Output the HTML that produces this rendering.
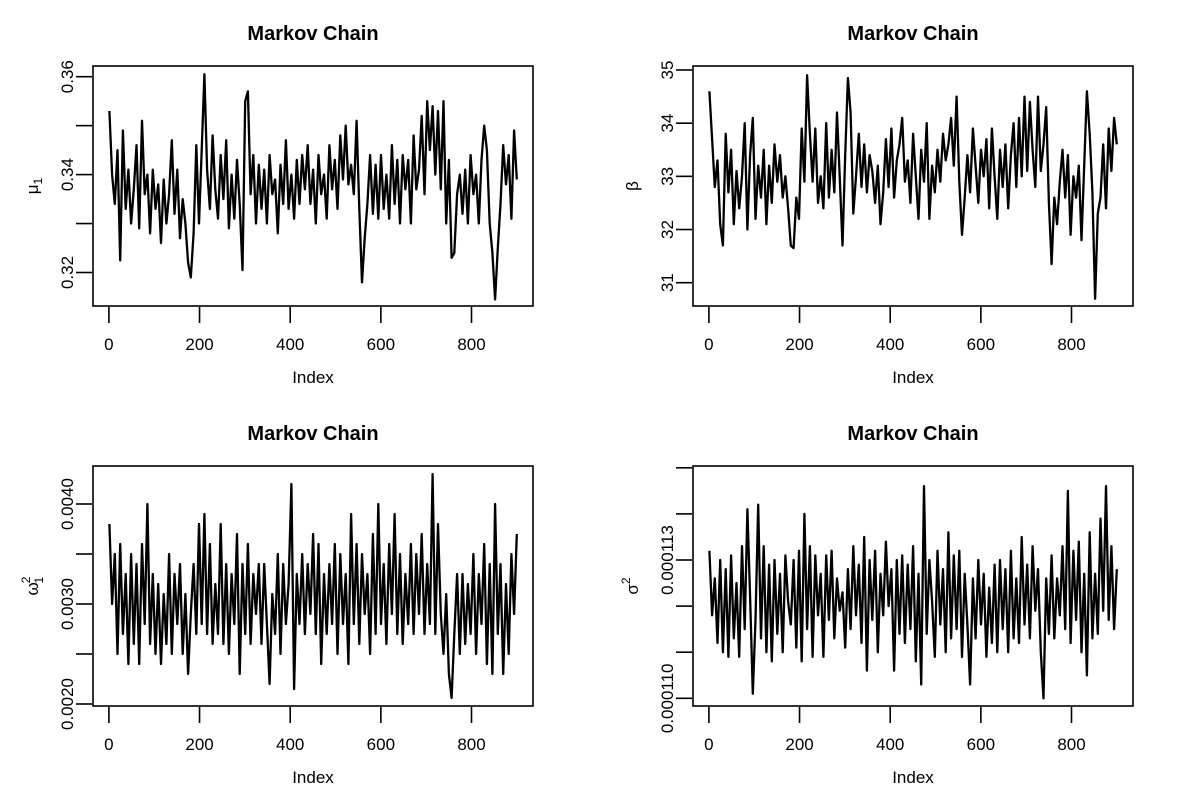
<!DOCTYPE html>
<html><head><meta charset="utf-8"><style>
body{margin:0;background:#fff;}
svg{display:block;font-family:"Liberation Sans",Arial,sans-serif;}
</style></head><body>
<svg id="chart" width="1200" height="800" viewBox="0 0 1200 800"></svg>
<script>
// x positions: chain index (1..900)
const xTicks = [0, 200, 400, 600, 800];
const mu1Vals = [0.353,0.340,0.334,0.345,0.3225,0.349,0.333,0.341,0.330,0.337,
0.346,0.329,0.351,0.336,0.340,0.328,0.341,0.333,0.338,0.326,
0.339,0.330,0.336,0.347,0.332,0.341,0.327,0.335,0.330,0.322,
0.319,0.328,0.346,0.330,0.345,0.3605,0.341,0.333,0.348,0.337,
0.331,0.344,0.335,0.347,0.329,0.340,0.331,0.343,0.334,0.3205,
0.355,0.357,0.336,0.344,0.330,0.342,0.333,0.341,0.330,0.344,
0.336,0.339,0.328,0.342,0.334,0.347,0.333,0.340,0.331,0.343,
0.334,0.344,0.337,0.346,0.334,0.341,0.330,0.344,0.336,0.340,
0.331,0.346,0.337,0.343,0.333,0.348,0.339,0.350,0.338,0.342,
0.336,0.351,0.333,0.318,0.327,0.334,0.344,0.332,0.342,0.331,
0.344,0.333,0.340,0.331,0.346,0.334,0.343,0.330,0.344,0.337,
0.343,0.330,0.348,0.337,0.341,0.352,0.336,0.355,0.345,0.354,
0.340,0.353,0.337,0.355,0.330,0.343,0.323,0.324,0.336,0.340,
0.332,0.341,0.330,0.344,0.336,0.340,0.330,0.343,0.350,0.345,
0.330,0.324,0.3145,0.325,0.334,0.346,0.338,0.344,0.331,0.349,0.339];
const mu1Ticks = [0.32, 0.33, 0.34, 0.35, 0.36];
const mu1Labels = ["0.32", "", "0.34", "", "0.36"];

const betaVals = [34.6,33.7,32.8,33.3,32.1,31.7,33.8,32.7,33.5,32.1,
33.1,32.4,33.0,34.0,32.0,33.4,34.1,32.2,33.2,32.6,
33.5,32.1,33.2,32.5,33.6,32.9,33.4,32.6,33.0,32.4,
31.7,31.65,32.6,32.2,33.9,32.9,34.9,33.8,32.9,33.9,
32.5,33.0,32.4,34.0,32.6,33.5,32.7,34.2,33.0,31.7,
33.4,34.85,34.2,32.3,33.0,33.8,32.8,33.6,32.7,33.4,
33.1,32.5,33.2,32.1,32.7,33.7,32.8,33.9,32.6,33.3,
33.6,34.1,32.9,33.3,32.5,33.8,33.0,32.2,33.5,32.9,
34.0,32.2,33.2,32.7,33.5,32.9,33.8,33.3,33.6,34.1,
33.2,34.5,32.9,31.9,32.6,33.4,32.7,33.9,33.2,32.5,
33.5,33.0,33.7,32.4,33.9,33.0,32.2,33.5,32.8,33.6,
32.4,33.4,34.0,32.8,34.1,33.0,34.5,33.1,34.4,33.5,
32.8,34.5,33.1,33.6,34.3,32.5,31.35,32.6,32.1,32.9,
33.5,32.6,33.4,31.9,33.0,32.6,33.2,31.8,33.2,34.6,
33.8,32.7,30.7,32.3,32.6,33.6,32.4,33.9,33.1,34.1,33.6];
const betaTicks = [31, 32, 33, 34, 35];
const betaLabels = ["31", "32", "33", "34", "35"];

const omegaVals = [0.0038,0.0030,0.0035,0.0025,0.0036,0.0027,0.0033,0.0024,0.0035,0.0026,
0.0034,0.0024,0.0036,0.0028,0.0040,0.0026,0.0033,0.0025,0.0032,0.0024,
0.0031,0.0026,0.0035,0.0025,0.0033,0.0028,0.0034,0.0025,0.0031,0.0023,
0.0029,0.0034,0.0027,0.0038,0.0028,0.0039,0.0027,0.0036,0.0026,0.0032,
0.0027,0.0038,0.0026,0.0034,0.0025,0.0033,0.0028,0.0037,0.0023,0.0034,
0.0027,0.0036,0.0026,0.0033,0.0029,0.0034,0.0026,0.0034,0.0028,0.0022,
0.0031,0.0027,0.0035,0.0025,0.0034,0.0028,0.0032,0.0042,0.00215,0.0033,
0.0028,0.0035,0.0027,0.0034,0.0029,0.0037,0.0027,0.0036,0.0024,0.0033,
0.0027,0.0034,0.0028,0.0036,0.0025,0.0035,0.0028,0.0033,0.0024,0.0039,
0.0028,0.0036,0.0026,0.0035,0.0029,0.0033,0.0025,0.0037,0.0027,0.0040,
0.0028,0.0034,0.0026,0.0036,0.0029,0.0039,0.0027,0.0035,0.0026,0.0033,
0.0028,0.0036,0.0027,0.0035,0.0029,0.0037,0.0027,0.0034,0.0028,0.0043,
0.0027,0.0038,0.0029,0.0025,0.0031,0.0023,0.00206,0.0027,0.0033,0.0025,
0.0033,0.0026,0.0032,0.0027,0.0035,0.0025,0.0033,0.0028,0.0036,0.0024,
0.0034,0.0023,0.0040,0.0027,0.0034,0.0023,0.0032,0.0025,0.0035,0.0029,0.0037];
const omegaTicks = [0.0020, 0.0025, 0.0030, 0.0035, 0.0040];
const omegaLabels = ["0.0020", "", "0.0030", "", "0.0040"];

// sigma^2 values in units of 1e-6
const sigmaMicroVals = [113.2,111.8,112.6,111.2,113.0,111.0,112.8,110.9,113.1,111.3,
112.5,110.9,113.3,111.5,114.1,112.2,110.1,111.7,114.2,111.3,
113.3,111.0,112.9,110.8,113.0,111.4,112.7,111.0,113.1,112.1,
111.6,113.0,111.1,113.2,110.8,114.0,111.5,113.3,110.9,113.1,
111.8,112.7,110.9,113.1,111.7,113.2,111.3,112.6,111.9,112.3,
111.1,112.8,111.5,113.3,111.8,112.9,111.2,113.5,110.6,113.0,
111.7,113.2,111.0,112.7,111.8,113.4,112.0,112.8,110.6,113.0,
111.4,113.1,111.2,112.9,111.5,113.3,110.8,112.7,110.3,114.6,
111.4,113.0,112.1,110.9,113.2,111.6,112.8,111.0,113.6,111.3,
113.1,111.5,113.2,110.9,112.7,111.6,110.3,112.6,111.3,113.0,
111.6,112.7,110.9,112.4,111.2,112.9,111.0,113.0,111.5,112.8,
111.0,113.2,111.3,112.6,111.2,113.5,111.6,112.9,111.3,113.3,
111.9,112.8,111.0,110.0,112.6,111.4,113.1,111.3,112.6,111.8,
113.3,111.5,114.5,111.2,113.2,111.7,113.4,111.0,112.7,110.5,
113.6,111.3,112.7,111.4,113.9,111.9,114.6,111.7,113.3,111.5,112.8];
const sigmaTicks = [110, 111, 112, 113, 114, 115];
const sigmaLabels = ["0.000110", "", "", "0.000113", "", ""];

const NS = "http://www.w3.org/2000/svg";
const svg = document.getElementById("chart");
function mk(tag, attrs, parent, txt){
  const e = document.createElementNS(NS, tag);
  for (const k in attrs) e.setAttribute(k, attrs[k]);
  if (txt !== undefined) e.textContent = txt;
  (parent || svg).appendChild(e);
  return e;
}

function panel(name, ox, oy, vals, yTicks, yLabels, yv0, yp0, yv1, yp1, ylabHtml){
  const g = mk("g", {});
  
  
  const L = ox + 93, R = ox + 533, T = oy + 66, B = oy + 306;
  const xs = v => ox + 108.9 + (v / 800) * (471.5 - 108.9);
  const ys = v => yp0 + (v - yv0) * (yp1 - yp0) / (yv1 - yv0);
  const t = mk("text", {x: ox + 313, y: oy + 40, "text-anchor": "middle", "font-size": 20, "font-weight": "bold"}, g, "Markov Chain");
  
  
  const n = vals.length;
  let d = "";
  vals.forEach((v, i) => {
    const idx = 1 + i * 899 / (n - 1);
    d += (i ? "L" : "M") + xs(idx).toFixed(1) + "," + ys(v).toFixed(1);
  });
  const p = mk("path", {d: d, fill: "none", stroke: "#000", "stroke-width": 2.3, "stroke-linejoin": "round"}, g);
  
  
  const bx = mk("rect", {x: L, y: T, width: R - L, height: B - T, fill: "none", stroke: "#000", "stroke-width": 1.6}, g);
  
  
  const xa = mk("g", {}, g);
  
  
  xTicks.forEach(v => {
    mk("line", {x1: xs(v), x2: xs(v), y1: B + 1, y2: B + 17, stroke: "#000", "stroke-width": 1.6}, xa);
    const tl = mk("text", {x: xs(v), y: B + 44, "text-anchor": "middle", "font-size": 17}, xa, String(v));
    
    
  });
  const xt = mk("text", {x: ox + 313, y: oy + 383, "text-anchor": "middle", "font-size": 17}, g, "Index");
  
  
  const ya = mk("g", {}, g);
  
  
  yTicks.forEach((v, i) => {
    mk("line", {x1: L - 17, x2: L - 1, y1: ys(v), y2: ys(v), stroke: "#000", "stroke-width": 1.6}, ya);
    if (yLabels[i]) {
      const yl = mk("text", {x: 0, y: 0, "text-anchor": "middle", "font-size": 17,
        transform: "translate(" + (ox + 73) + "," + ys(v) + ") rotate(-90)"}, ya, yLabels[i]);
      
      
    }
  });
  const yt = mk("text", {x: 0, y: 0, "text-anchor": "middle", "font-size": 17,
    transform: "translate(" + (ox + 38) + "," + (oy + 186) + ") rotate(-90)"}, g);
  yt.innerHTML = ylabHtml;
  
  
}

panel("mu1", 0, 0, mu1Vals, mu1Ticks, mu1Labels, 0.32, 272.5, 0.36, 76.7,
  'μ<tspan font-size="12" dy="4">1</tspan>');
panel("beta", 600, 0, betaVals, betaTicks, betaLabels, 31, 282.7, 35, 70,
  'β');
panel("omega1-sq", 0, 400, omegaVals, omegaTicks, omegaLabels, 0.0020, 704, 0.0040, 504,
  'ω<tspan font-size="12" dy="-8" dx="-1">2</tspan><tspan font-size="12" dy="13" dx="-7">1</tspan>');
panel("sigma-sq", 600, 400, sigmaMicroVals, sigmaTicks, sigmaLabels, 110, 698.3, 113, 560,
  'σ<tspan font-size="12" dy="-8">2</tspan>');
</script>
</body></html>
